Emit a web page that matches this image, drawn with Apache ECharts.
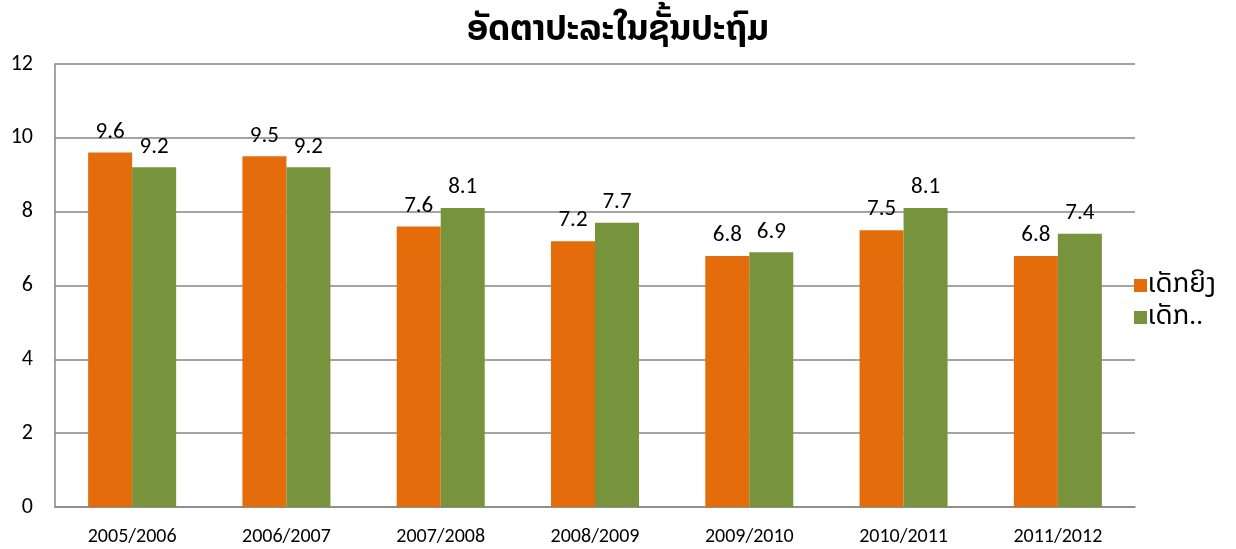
<!DOCTYPE html>
<html>
<head>
<meta charset="utf-8">
<script src="https://cdn.jsdelivr.net/npm/echarts@6/dist/echarts.min.js"></script>
<style>
  html, body { margin: 0; padding: 0; background: #fff; }
  #chart { width: 1236px; height: 549px; }
</style>
</head>
<body>
<div id="chart"></div>
<script>
const years = ['2005/2006', '2006/2007', '2007/2008', '2008/2009', '2009/2010', '2010/2011', '2011/2012']
const girls = [9.6, 9.5, 7.6, 7.2, 6.8, 7.5, 6.8]
const boys = [9.2, 9.2, 8.1, 7.7, 6.9, 8.1, 7.4]
const seriesNames = ['ເດັກຍິງ', 'ເດັກ..']

const font = 'Calibri, Carlito, Lato, "Noto Sans Lao", "DejaVu Sans", "Noto Sans", sans-serif'

const chart = echarts.init(document.getElementById('chart'))

const labelStyle = {
  show: true,
  position: 'top',
  distance: 9,
  color: '#000',
  fontSize: 23,
  fontFamily: font
}

const option = {
  animation: false,
  title: {
    text: 'ອັດຕາປະລະໃນຊັ້ນປະຖົມ',
    left: 'center',
    top: 9,
    textStyle: { fontSize: 35, fontWeight: 'bold', color: '#000', fontFamily: font }
  },
  legend: {
    orient: 'vertical',
    left: 1129,
    top: 267,
    itemWidth: 13,
    itemHeight: 13,
    itemGap: 5,
    icon: 'rect',
    textStyle: { fontSize: 27, color: '#000', fontFamily: font, padding: [0, 0, 0, -4] },
    data: seriesNames
  },
  grid: { left: 55, right: 101, top: 64, bottom: 42 },
  xAxis: {
    type: 'category',
    data: years,
    axisLine: { lineStyle: { color: '#868686', width: 1.5 } },
    axisTick: { show: false },
    axisLabel: { color: '#000', fontSize: 20, margin: 20, fontFamily: font }
  },
  yAxis: {
    type: 'value',
    min: 0,
    max: 12,
    interval: 2,
    axisLine: { show: true, lineStyle: { color: '#868686', width: 1.5 } },
    axisTick: { show: false },
    splitLine: { lineStyle: { color: '#868686', width: 1.5 } },
    axisLabel: { color: '#000', fontSize: 22, margin: 22, fontFamily: font }
  },
  series: [
    {
      name: seriesNames[0],
      type: 'bar',
      data: girls,
      barWidth: 44,
      barGap: '0%',
      itemStyle: { color: '#E46C0A' },
      label: labelStyle
    },
    {
      name: seriesNames[1],
      type: 'bar',
      data: boys,
      barWidth: 44,
      barGap: '0%',
      itemStyle: { color: '#77933C' },
      label: labelStyle
    }
  ]
}

chart.setOption(option)
</script>
</body>
</html>
